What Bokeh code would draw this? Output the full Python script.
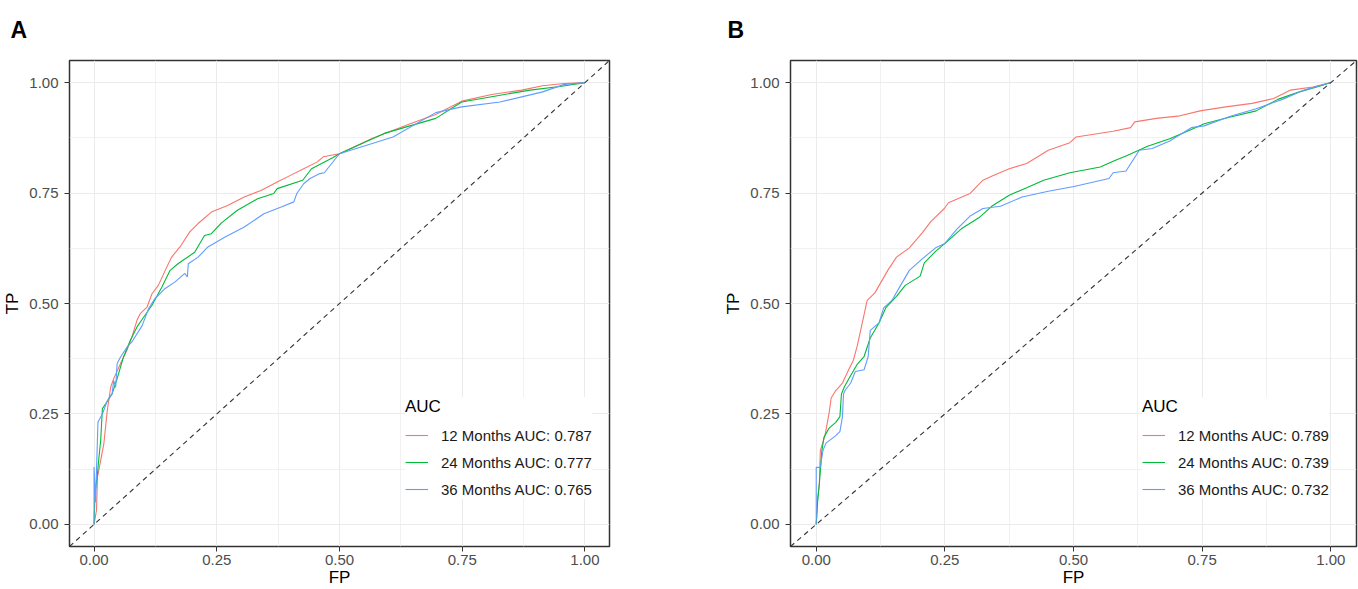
from bokeh.plotting import figure
from bokeh.layouts import row
from bokeh.models import (Range1d, FixedTicker, NumeralTickFormatter, Slope, Title,
                          Legend, LegendItem)
from bokeh.embed import file_html
from bokeh.resources import INLINE

# ---------------- data ----------------
major_ticks = [0.0, 0.25, 0.5, 0.75, 1.0]
minor_ticks = [0.125, 0.375, 0.625, 0.875]

series_names = ["12 Months", "24 Months", "36 Months"]
series_colors = ["#F8766D", "#00BA38", "#619CFF"]

a_auc = ["0.787", "0.777", "0.765"]
b_auc = ["0.789", "0.739", "0.732"]

# Panel A
a_fp_12 = [0, 0.005, 0.007, 0.0135, 0.02, 0.027, 0.034, 0.040, 0.054, 0.067, 0.077, 0.0875, 0.094,
           0.108, 0.118, 0.131, 0.145, 0.158, 0.175, 0.195, 0.212, 0.239, 0.272, 0.306, 0.34, 0.373,
           0.40, 0.427, 0.454, 0.467, 0.50, 0.565, 0.644, 0.696, 0.749, 0.81, 0.871, 0.914, 0.958, 1.0]
a_tp_12 = [0, 0.032, 0.107, 0.145, 0.183, 0.258, 0.311, 0.33, 0.364, 0.394, 0.424, 0.462, 0.477,
           0.492, 0.522, 0.541, 0.575, 0.605, 0.628, 0.662, 0.681, 0.707, 0.722, 0.741, 0.756, 0.775,
           0.79, 0.805, 0.82, 0.832, 0.839, 0.873, 0.907, 0.928, 0.958, 0.973, 0.983, 0.993, 0.998, 1.0]

a_fp_24 = [0, 0.002, 0.007, 0.01, 0.0135, 0.017, 0.0236, 0.037, 0.047, 0.06, 0.074, 0.0875, 0.101,
           0.118, 0.138, 0.155, 0.171, 0.205, 0.225, 0.239, 0.259, 0.292, 0.333, 0.366, 0.373, 0.425,
           0.443, 0.486, 0.5, 0.591, 0.696, 0.749, 0.81, 0.888, 0.949, 1.0]
a_tp_24 = [0, 0.07, 0.115, 0.152, 0.19, 0.262, 0.273, 0.296, 0.33, 0.379, 0.417, 0.447, 0.469,
           0.496, 0.537, 0.575, 0.59, 0.616, 0.654, 0.658, 0.682, 0.711, 0.737, 0.749, 0.76, 0.779,
           0.805, 0.83, 0.839, 0.885, 0.919, 0.956, 0.968, 0.983, 0.991, 1.0]

a_fp_36 = [0, 0, 0.003, 0.008, 0.017, 0.027, 0.037, 0.04, 0.044, 0.047, 0.054, 0.067, 0.077, 0.098,
           0.111, 0.124, 0.145, 0.165, 0.185, 0.19, 0.192, 0.212, 0.232, 0.266, 0.306, 0.346, 0.38,
           0.407, 0.413, 0.427, 0.44, 0.46, 0.469, 0.5, 0.609, 0.696, 0.749, 0.827, 0.914, 0.958, 1.0]
a_tp_36 = [0, 0.13, 0.05, 0.232, 0.25, 0.28, 0.296, 0.326, 0.31, 0.364, 0.379, 0.401, 0.413, 0.45,
           0.488, 0.511, 0.534, 0.549, 0.568, 0.56, 0.59, 0.605, 0.628, 0.65, 0.673, 0.703, 0.718,
           0.73, 0.749, 0.771, 0.783, 0.794, 0.796, 0.839, 0.877, 0.932, 0.945, 0.956, 0.979, 0.996, 1.0]

# Panel B
b_fp_12 = [0, 0.0025, 0.006, 0.008, 0.017, 0.025, 0.029, 0.038, 0.051, 0.063, 0.072, 0.08, 0.088,
           0.099, 0.114, 0.139, 0.156, 0.181, 0.206, 0.223, 0.249, 0.257, 0.299, 0.324, 0.341, 0.375,
           0.409, 0.451, 0.493, 0.505, 0.577, 0.611, 0.619, 0.661, 0.703, 0.746, 0.796, 0.847, 0.889,
           0.922, 0.965, 1.0]
b_tp_12 = [0, 0.057, 0.091, 0.167, 0.201, 0.252, 0.286, 0.303, 0.32, 0.35, 0.371, 0.405, 0.448,
           0.507, 0.524, 0.575, 0.605, 0.626, 0.66, 0.686, 0.715, 0.728, 0.749, 0.779, 0.788, 0.805,
           0.817, 0.847, 0.864, 0.877, 0.89, 0.898, 0.911, 0.919, 0.924, 0.936, 0.945, 0.953, 0.964,
           0.983, 0.99, 1.0]

b_fp_24 = [0, 0.0025, 0.006, 0.011, 0.015, 0.025, 0.038, 0.046, 0.049, 0.055, 0.067, 0.08, 0.093,
           0.105, 0.122, 0.135, 0.156, 0.173, 0.202, 0.21, 0.232, 0.257, 0.282, 0.316, 0.341, 0.375,
           0.409, 0.442, 0.493, 0.552, 0.577, 0.602, 0.644, 0.687, 0.729, 0.754, 0.805, 0.855, 0.897,
           0.939, 0.981, 1.0]
b_tp_24 = [0, 0.048, 0.091, 0.167, 0.197, 0.218, 0.231, 0.244, 0.295, 0.312, 0.337, 0.363, 0.38,
           0.422, 0.456, 0.49, 0.516, 0.541, 0.562, 0.592, 0.618, 0.643, 0.669, 0.694, 0.72, 0.745,
           0.762, 0.779, 0.796, 0.809, 0.822, 0.834, 0.856, 0.873, 0.894, 0.907, 0.922, 0.936, 0.962,
           0.979, 0.993, 1.0]

b_fp_36 = [0, 0, 0.008, 0.013, 0.019, 0.038, 0.046, 0.051, 0.053, 0.056, 0.067, 0.076, 0.093, 0.101,
           0.105, 0.122, 0.131, 0.147, 0.164, 0.181, 0.206, 0.232, 0.249, 0.274, 0.299, 0.324, 0.358,
           0.4, 0.451, 0.501, 0.569, 0.577, 0.602, 0.628, 0.653, 0.687, 0.729, 0.754, 0.805, 0.855,
           0.906, 0.948, 1.0]
b_tp_36 = [0, 0.129, 0.129, 0.167, 0.184, 0.201, 0.21, 0.244, 0.295, 0.303, 0.32, 0.346, 0.35, 0.38,
           0.439, 0.456, 0.49, 0.507, 0.541, 0.575, 0.601, 0.626, 0.635, 0.669, 0.698, 0.715, 0.72,
           0.741, 0.754, 0.765, 0.783, 0.796, 0.8, 0.847, 0.851, 0.868, 0.898, 0.902, 0.924, 0.941,
           0.962, 0.983, 1.0]

FONT = "Liberation Sans"


def make_panel(letter, width, b_left, b_right, curves, aucs, legend_x, letter_offset):
    p = figure(width=width, height=589, x_range=Range1d(-0.05, 1.05), y_range=Range1d(-0.05, 1.05),
               output_backend="svg", toolbar_location=None,
               min_border_left=b_left, min_border_right=b_right,
               min_border_top=60, min_border_bottom=43)
    p.background_fill_color = "white"
    p.border_fill_color = "white"
    p.outline_line_color = "#333333"
    p.outline_line_width = 1.5

    p.add_layout(Title(text=letter, align="left", offset=letter_offset, standoff=31,
                       vertical_align="top",
                       text_font=FONT, text_font_size="23px", text_font_style="bold",
                       text_color="#000000"), "above")

    for ax in (p.xaxis, p.yaxis):
        ax.ticker = FixedTicker(ticks=major_ticks, minor_ticks=minor_ticks)
        ax.formatter = NumeralTickFormatter(format="0.00")
        ax.axis_line_color = None
        ax.major_tick_line_color = "#333333"
        ax.major_tick_out = 5
        ax.major_tick_in = 0
        ax.minor_tick_line_color = None
        ax.major_label_text_font = FONT
        ax.major_label_text_font_size = "15px"
        ax.major_label_text_color = "#4D4D4D"
        ax.axis_label_text_font = FONT
        ax.axis_label_text_font_size = "17px"
        ax.axis_label_text_font_style = "normal"
        ax.axis_label_text_color = "#000000"
    p.xaxis.major_label_standoff = 3
    p.yaxis.major_label_standoff = 6
    p.xaxis.axis_label = "FP"
    p.yaxis.axis_label = "TP"
    p.xaxis.axis_label_standoff = 0
    p.yaxis.axis_label_standoff = 4

    for g in (p.xgrid, p.ygrid):
        g.grid_line_color = "#EBEBEB"
        g.grid_line_width = 1.1
        g.minor_grid_line_color = "#EBEBEB"
        g.minor_grid_line_width = 0.7

    p.add_layout(Slope(gradient=1, y_intercept=0, line_color="#333333",
                       line_dash="5 4", line_width=1.1))

    items = []
    for (fp, tp), name, col, auc in zip(curves, series_names, series_colors, aucs):
        r = p.line(fp, tp, line_color=col, line_width=1.1)
        items.append(LegendItem(label=f"{name} AUC: {auc}", renderers=[r]))

    legend = Legend(items=items, location=(legend_x, 47), title="AUC",
                    title_text_font=FONT, title_text_font_size="17px", title_text_color="#000000",
                    title_text_font_style="normal", title_standoff=8,
                    label_text_font=FONT, label_text_font_size="15px", label_text_color="#1A1A1A",
                    label_standoff=13, label_height=20, glyph_height=20, glyph_width=23,
                    spacing=7, padding=11, margin=0,
                    border_line_color=None, background_fill_color="white",
                    background_fill_alpha=1.0)
    p.add_layout(legend)
    return p


pA = make_panel("A", 679, 64, 70,
                [(a_fp_12, a_tp_12), (a_fp_24, a_tp_24), (a_fp_36, a_tp_36)],
                a_auc, legend_x=336, letter_offset=-59)
pB = make_panel("B", 679, 111, 2,
                [(b_fp_12, b_tp_12), (b_fp_24, b_tp_24), (b_fp_36, b_tp_36)],
                b_auc, legend_x=352, letter_offset=-63)

layout = row(pA, pB)
open("out.html", "w").write(file_html(layout, INLINE))
